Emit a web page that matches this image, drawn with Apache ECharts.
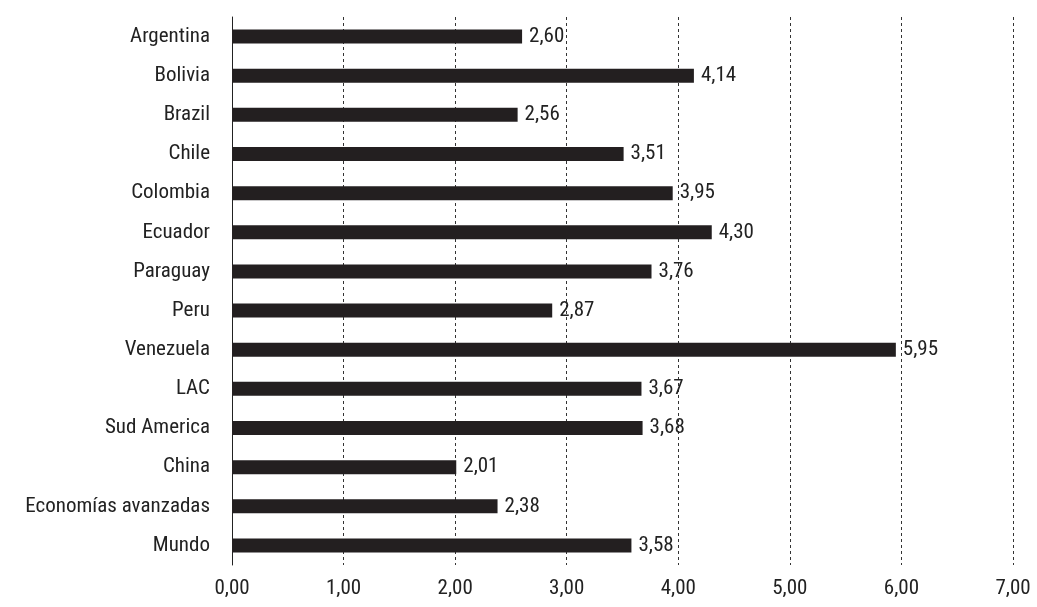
<!DOCTYPE html>
<html><head><meta charset="utf-8">
<script src="https://cdn.jsdelivr.net/npm/echarts@6/dist/echarts.min.js"></script>
<style>html,body{margin:0;padding:0;background:#fff}#c{width:1037px;height:607px}</style>
</head><body><div id="c"></div>
<script>
const categories=["Argentina","Bolivia","Brazil","Chile","Colombia","Ecuador","Paraguay","Peru","Venezuela","LAC","Sud America","China","Economías avanzadas","Mundo"];
const values=[2.60,4.14,2.56,3.51,3.95,4.30,3.76,2.87,5.95,3.67,3.68,2.01,2.38,3.58];
const chart=echarts.init(document.getElementById('c'));
const font='"Roboto Condensed",sans-serif';
const fs=21;
chart.setOption({
  animation:false,
  grid:{left:232,right:24,top:17,bottom:42},
  xAxis:{type:'value',min:0,max:7,interval:1,
    axisLine:{show:false},axisTick:{show:false},
    splitLine:{show:true,lineStyle:{type:[3,3],color:'#333',width:1}},
    axisLabel:{color:'#222',fontSize:fs,fontFamily:font,margin:13,formatter:v=>v.toFixed(2).replace('.',',')}},
  yAxis:{type:'category',inverse:true,data:categories,
    axisLine:{show:true,lineStyle:{color:'#222',width:1}},axisTick:{show:false},
    axisLabel:{color:'#222',fontSize:fs,fontFamily:font,margin:22}},
  series:[{type:'bar',data:values,barWidth:14,itemStyle:{color:'#231f20'},
    label:{show:true,position:'right',distance:7,color:'#222',fontSize:fs,fontFamily:font,
      formatter:p=>p.value.toFixed(2).replace('.',',')}}]
});
</script></body></html>
